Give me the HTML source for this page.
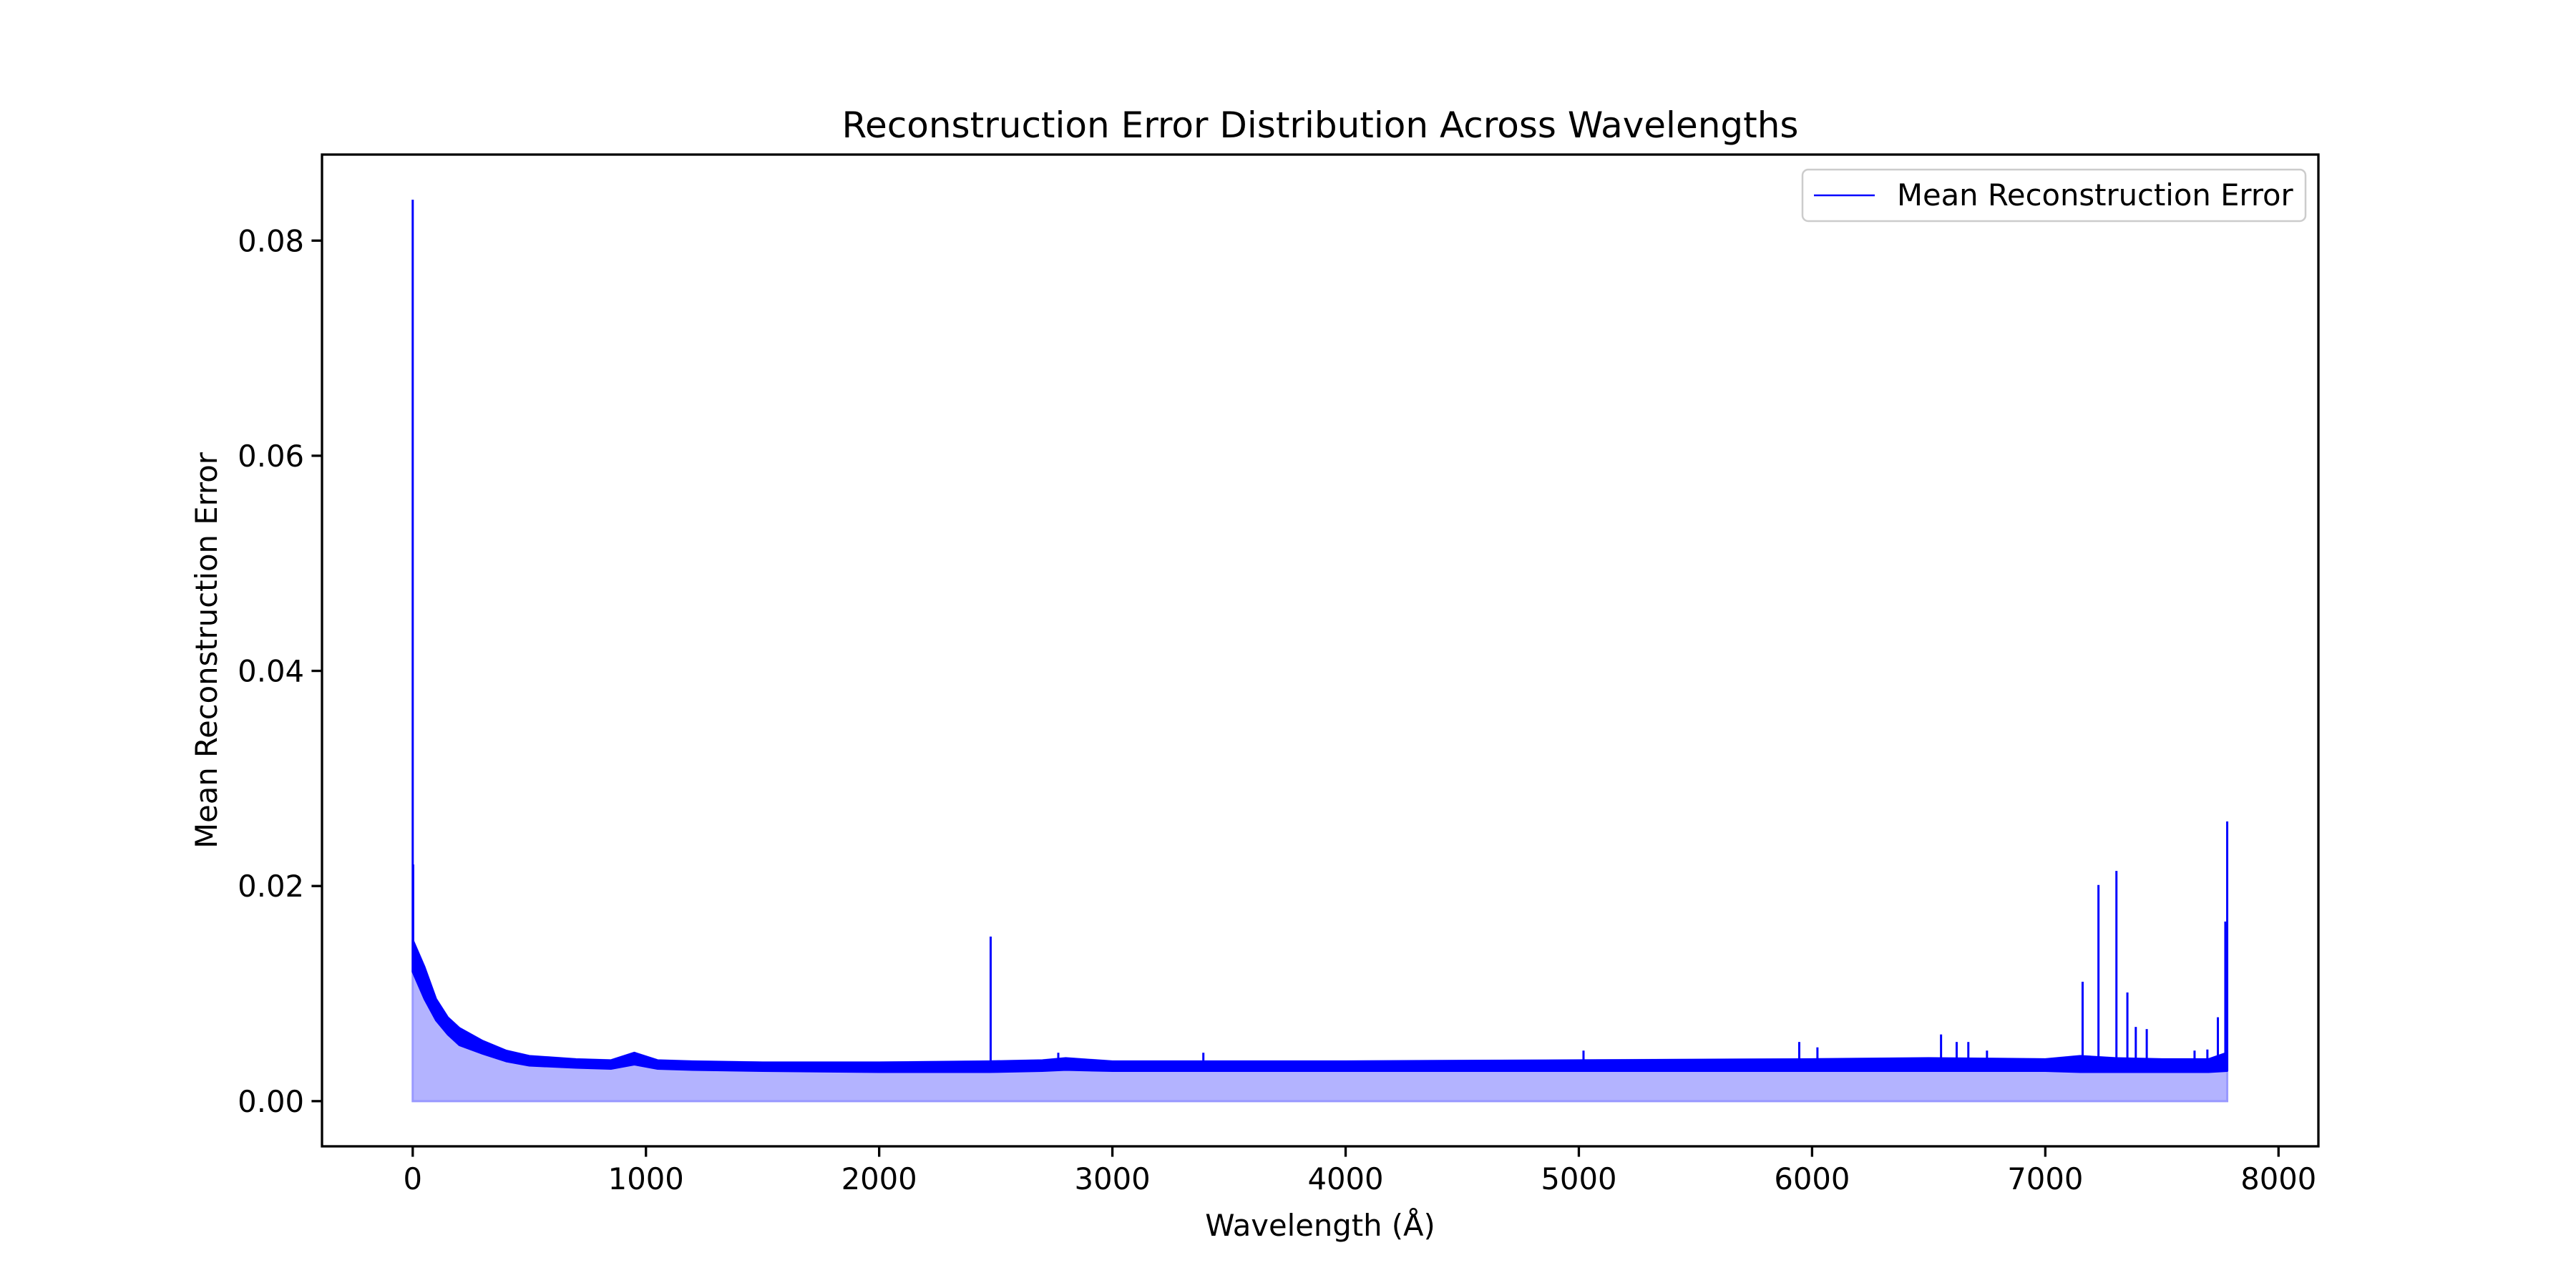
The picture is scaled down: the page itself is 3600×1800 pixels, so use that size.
<!DOCTYPE html>
<html><head><meta charset="utf-8"><style>
html,body{margin:0;padding:0;background:#fff}
svg{display:block}
text{font-family:"DejaVu Sans","Liberation Sans",sans-serif;fill:#000}
</style></head><body>
<svg id="chart" width="3600" height="1800" viewBox="0 0 3600 1800" xmlns="http://www.w3.org/2000/svg">
<rect x="0" y="0" width="3600" height="1800" fill="#fff"/>
<text x="1845" y="192" font-size="50" text-anchor="middle">Reconstruction Error Distribution Across Wavelengths</text>
<g id="plot"></g>
<g id="axes"></g>
<text x="1845" y="1727" font-size="41.7" text-anchor="middle">Wavelength (Å)</text>
<text x="0" y="0" font-size="41.7" text-anchor="middle" transform="translate(303,909) rotate(-90)">Mean Reconstruction Error</text>
<g>
<rect x="2519" y="237" width="703" height="72" rx="8" fill="#fff" fill-opacity="0.8" stroke="#ccc" stroke-width="2.5"/>
<line x1="2535" y1="273" x2="2620" y2="273" stroke="#0000ff" stroke-width="2.5"/>
<text x="2651" y="287" font-size="41.7">Mean Reconstruction Error</text>
</g>
</svg>
<script>
// Envelope of the dense series (wavelength, upper, lower)
const envX  = [0, 20, 50, 100, 150, 200, 300, 400, 500, 700, 850, 950, 1050, 1200, 1500, 2000, 2470, 2700, 2800, 3000, 4000, 5000, 6000, 6500, 7000, 7150, 7300, 7500, 7700, 7780];
const envHi = [0.0150, 0.0140, 0.0125, 0.0095, 0.0078, 0.0068, 0.0056, 0.0047, 0.0042, 0.0039, 0.0038, 0.0045, 0.0038, 0.0037, 0.0036, 0.0036, 0.0037, 0.0038, 0.0040, 0.0037, 0.0037, 0.0038, 0.0039, 0.0040, 0.0039, 0.0042, 0.0040, 0.0039, 0.0039, 0.0045];
const envLo = [0.0120, 0.0110, 0.0095, 0.0075, 0.0062, 0.0052, 0.0044, 0.0037, 0.0033, 0.0031, 0.0030, 0.0034, 0.0030, 0.0029, 0.0028, 0.0027, 0.0027, 0.0028, 0.0029, 0.0028, 0.0028, 0.0028, 0.0028, 0.0028, 0.0028, 0.0027, 0.0027, 0.0027, 0.0027, 0.0028];
// Narrow spikes (wavelength, peak value)
const spikeX = [0, 2, 2478, 2768, 3390, 5020, 5945, 6023, 6553, 6620, 6670, 6750, 7160, 7228, 7305, 7352, 7388, 7435, 7640, 7695, 7740, 7772, 7780];
const spikeY = [0.0838, 0.0220, 0.0153, 0.0045, 0.0045, 0.0047, 0.0055, 0.0050, 0.0062, 0.0055, 0.0055, 0.0047, 0.0111, 0.0201, 0.0214, 0.0101, 0.0069, 0.0067, 0.0047, 0.0048, 0.0078, 0.0167, 0.0260];
const xTicks = [0, 1000, 2000, 3000, 4000, 5000, 6000, 7000, 8000];
const yTicks = [0, 0.02, 0.04, 0.06, 0.08];
const yTickLabels = ["0.00", "0.02", "0.04", "0.06", "0.08"];

const L=450,R=3240,T=216,B=1602;
const xMin=-389,xMax=8171,yMin=-0.0042,yMax=0.088;
function sx(v){return L+(v-xMin)/(xMax-xMin)*(R-L);}
function sy(v){return B-(v-yMin)/(yMax-yMin)*(B-T);}
function interp(arr,x){for(let i=0;i<envX.length-1;i++){if(x<=envX[i+1]){const t=(x-envX[i])/(envX[i+1]-envX[i]);return arr[i]+t*(arr[i+1]-arr[i]);}}return arr[arr.length-1];}
const NS="http://www.w3.org/2000/svg";
const plot=document.getElementById('plot');
const axes=document.getElementById('axes');
function mk(tag,attrs,parent){const e=document.createElementNS(NS,tag);for(const k in attrs)e.setAttribute(k,attrs[k]);parent.appendChild(e);return e;}

let fp='M'+sx(envX[0])+','+sy(0);
envX.forEach((x,i)=>{fp+=' L'+sx(x)+','+sy(envHi[i]);});
fp+=' L'+sx(envX[envX.length-1])+','+sy(0)+' Z';
const fill=mk('path',{d:fp,fill:'#b3b3ff',stroke:'#9999ff','stroke-width':3},plot);



let bp='';
envX.forEach((x,i)=>{bp+=(i?' L':'M')+sx(x)+','+sy(envHi[i]);});
for(let i=envX.length-1;i>=0;i--)bp+=' L'+sx(envX[i])+','+sy(envLo[i]);
bp+=' Z';
const band=mk('path',{d:bp,fill:'#0000ff',stroke:'#0000ff','stroke-width':2.5,'stroke-linejoin':'round'},plot);



spikeX.forEach((x,i)=>{
  const base=interp(envLo,x);
  const ln=mk('line',{x1:sx(x),x2:sx(x),y1:sy(base),y2:sy(spikeY[i]),stroke:'#0000ff','stroke-width':3},plot);
  
  
});

const fr=mk('rect',{x:L,y:T,width:R-L,height:B-T,fill:'none',stroke:'#000','stroke-width':3.3},axes);



xTicks.forEach(v=>{
  const x=sx(v);
  const t=mk('line',{x1:x,x2:x,y1:B,y2:B+14.6,stroke:'#000','stroke-width':3.3},axes);
  
  
  const lb=mk('text',{x:x,y:B+60,'font-size':41.7,'text-anchor':'middle'},axes);
  lb.textContent=String(v);
  
  
});
yTicks.forEach((v,i)=>{
  const y=sy(v);
  const t=mk('line',{x1:L-14.6,x2:L,y1:y,y2:y,stroke:'#000','stroke-width':3.3},axes);
  
  
  const lb=mk('text',{x:L-25,y:y+15,'font-size':41.7,'text-anchor':'end'},axes);
  lb.textContent=yTickLabels[i];
  
  
});
</script>
</body></html>
